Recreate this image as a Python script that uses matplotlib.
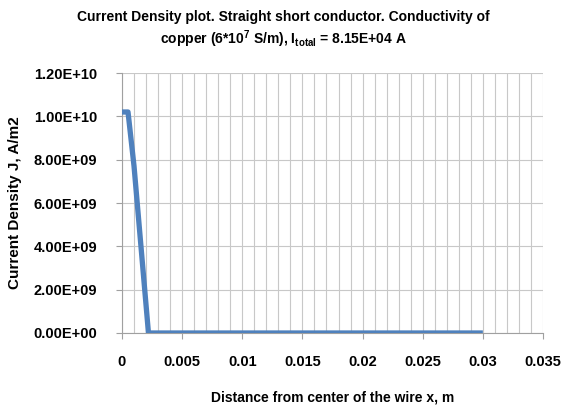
import matplotlib
matplotlib.use('Agg')
import matplotlib.pyplot as plt
import numpy as np
from matplotlib.ticker import MultipleLocator, FuncFormatter

plt.rcParams['font.family'] = 'Liberation Sans'
plt.rcParams['font.weight'] = 'bold'
plt.rcParams['mathtext.fontset'] = 'custom'
plt.rcParams['mathtext.rm'] = 'Liberation Sans:bold'
plt.rcParams['mathtext.bf'] = 'Liberation Sans:bold'
plt.rcParams['mathtext.default'] = 'bf'

# distance from centre (m) and current density (A/m2)
x_dist = [0.0, 0.0005, 0.001, 0.0022, 0.005, 0.01, 0.015, 0.02, 0.025, 0.03]
j_dens = [1.02e10, 1.02e10, 7.7e9, 0.0, 0.0, 0.0, 0.0, 0.0, 0.0, 0.0]

x_ticks = [0, 0.005, 0.01, 0.015, 0.02, 0.025, 0.03, 0.035]
x_tick_labels = ['0', '0.005', '0.01', '0.015', '0.02', '0.025', '0.03', '0.035']

fig = plt.figure(figsize=(5.66, 4.07), dpi=100)
ax = fig.add_axes([122 / 566, 1 - 333 / 407, 421 / 566, 260 / 407])

ax.plot(x_dist, j_dens, color='#4F81BD', linewidth=3.8, solid_capstyle='butt', zorder=3)

ax.set_xlim(0, 0.035)
ax.set_ylim(0, 1.2e10)
ax.set_xticks(x_ticks)
ax.set_xticklabels(x_tick_labels)
ax.xaxis.set_minor_locator(MultipleLocator(0.001))
ax.yaxis.set_major_locator(MultipleLocator(2e9))
ax.yaxis.set_major_formatter(FuncFormatter(lambda v, p: '%.2E' % v))

ax.grid(True, which='major', color='#C8C8C8', linewidth=0.8)
ax.grid(True, which='minor', axis='x', color='#C8C8C8', linewidth=0.8)
ax.set_axisbelow(True)
for s in ['top', 'right']:
    ax.spines[s].set_visible(False)
ax.spines['left'].set_color('#A0A0A0')
ax.spines['bottom'].set_color('#A0A0A0')
ax.tick_params(axis='x', which='major', length=4, color='#A0A0A0', labelsize=10.5, pad=12)
ax.tick_params(axis='x', which='minor', length=0)
ax.tick_params(axis='y', which='major', length=4, color='#A0A0A0', labelsize=10.5, pad=14)

ax.set_xlabel('Distance from center of the wire x, m', fontsize=10, fontweight='bold', labelpad=15)
ax.set_ylabel('Current Density J, A/m2', fontsize=11, fontweight='bold', labelpad=8)

fig.text(0.5, 1 - 17 / 407, 'Current Density plot. Straight short conductor. Conductivity of',
         ha='center', va='center', fontsize=10, fontweight='bold')
fig.text(0.5, 1 - 39 / 407, 'copper (6*10$^{7}$ S/m), I$_{total}$ = 8.15E+04 A',
         ha='center', va='center', fontsize=10, fontweight='bold')

plt.savefig('out.png', dpi=100)
